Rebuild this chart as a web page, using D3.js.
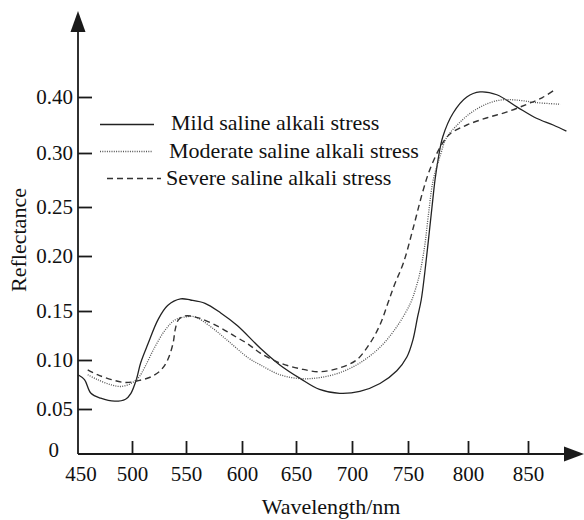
<!DOCTYPE html>
<html>
<head>
<meta charset="utf-8">
<script src="https://cdn.jsdelivr.net/npm/d3@7"></script>
<style>
  html, body { margin: 0; padding: 0; background: #fff; }
  svg { display: block; }
  text { font-family: "Liberation Serif", "Times New Roman", serif; fill: #111; }
</style>
</head>
<body>
<svg id="chart" width="584" height="520"></svg>
<script>
// ---------------- data ----------------
const seriesNames = ["Mild saline alkali stress", "Moderate saline alkali stress", "Severe saline alkali stress"];

const xTicks = [450, 500, 550, 600, 650, 700, 750, 800, 850];
const yTicks = [0, 0.05, 0.10, 0.15, 0.20, 0.25, 0.30, 0.40];

const mildWl = [450, 456, 462, 471, 484, 494, 499, 504, 508, 515, 524, 533, 545, 554, 567, 581, 596, 617, 635, 654, 671, 689, 707, 725, 740, 749, 754, 758, 761, 764, 767, 770, 772.5, 775, 779, 787.5, 799, 810, 824, 841, 857, 871, 882];
const mildR  = [0.085, 0.080, 0.066, 0.061, 0.058, 0.060, 0.066, 0.080, 0.097, 0.117, 0.141, 0.155, 0.161, 0.160, 0.157, 0.148, 0.135, 0.112, 0.095, 0.081, 0.070, 0.066, 0.068, 0.076, 0.089, 0.103, 0.120, 0.144, 0.160, 0.185, 0.216, 0.250, 0.275, 0.2935, 0.329, 0.371, 0.400, 0.409, 0.404, 0.382, 0.362, 0.350, 0.339];

const moderateWl = [459, 468, 481, 490, 499, 506, 512, 521, 531, 540, 550, 558, 572, 587, 606, 617, 635, 654, 671, 689, 707, 725, 740, 752, 756, 760, 764, 767, 771, 777, 782, 791, 802, 816, 829, 843, 857, 877];
const moderateR  = [0.085, 0.080, 0.0745, 0.073, 0.076, 0.082, 0.093, 0.113, 0.131, 0.141, 0.144, 0.144, 0.134, 0.120, 0.102, 0.095, 0.085, 0.081, 0.082, 0.087, 0.097, 0.113, 0.134, 0.157, 0.169, 0.185, 0.211, 0.242, 0.275, 0.298, 0.327, 0.350, 0.371, 0.388, 0.395, 0.394, 0.390, 0.387];

const severeWl = [459, 468, 481, 494, 506, 518, 527, 533, 538, 540, 543, 549, 561, 579, 594, 606, 617, 635, 654, 671, 689, 704, 716, 725, 732, 738, 746, 754, 762, 768, 777, 785, 799, 816, 832, 849, 862, 871];
const severeR  = [0.090, 0.085, 0.080, 0.077, 0.079, 0.083, 0.090, 0.100, 0.117, 0.131, 0.141, 0.145, 0.143, 0.134, 0.124, 0.116, 0.107, 0.097, 0.091, 0.088, 0.092, 0.100, 0.117, 0.136, 0.157, 0.174, 0.194, 0.227, 0.263, 0.284, 0.311, 0.334, 0.350, 0.363, 0.373, 0.387, 0.399, 0.411];

// ---------------- drawing ----------------
const svg = d3.select("#chart");
const ink = "#1a1a1a";

// the original chart uses an irregularly spaced axis, reproduced with piecewise scales
const x = d3.scaleLinear()
  .domain(xTicks)
  .range([78, 132, 186, 242, 296, 352, 408, 468, 528]);
const y = d3.scaleLinear()
  .domain(yTicks)
  .range([454, 409, 360, 311, 256, 207, 153, 97]);

const originX = x(450), originY = y(0);

// axis lines
svg.append("line").attr("x1", originX).attr("x2", originX)
  .attr("y1", originY).attr("y2", 30)
  .attr("stroke", ink).attr("stroke-width", 1.8);
svg.append("line").attr("x1", originX).attr("x2", 566)
  .attr("y1", originY).attr("y2", originY)
  .attr("stroke", ink).attr("stroke-width", 1.8);
// arrow heads
svg.append("path").attr("d", `M${originX},11 L${originX - 7.5},32 L${originX + 7.5},32 Z`).attr("fill", ink);
svg.append("path").attr("d", `M584,${originY} L564,${originY - 7.5} L564,${originY + 7.5} Z`).attr("fill", ink);

// x axis ticks (inward) + labels
const xAxis = d3.axisBottom(x).tickValues(xTicks.slice(1)).tickSizeInner(-13).tickSizeOuter(0).tickPadding(12).tickFormat(d3.format("d"));
const gx = svg.append("g").attr("transform", `translate(0,${originY})`).call(xAxis);
gx.select(".domain").remove();
gx.selectAll(".tick line").attr("stroke", ink).attr("stroke-width", 1.8);
gx.selectAll(".tick text").attr("font-size", 21).attr("fill", ink).attr("font-family", "Liberation Serif");
// the 450 label at the origin
svg.append("text").attr("x", originX + 3).attr("y", originY + 12).attr("dy", "0.71em")
  .attr("text-anchor", "middle").attr("font-size", 21).text("450");

// y axis ticks (inward) + labels
const fmtY = d => d === 0 ? "0" : d3.format(".2f")(d);
const yAxis = d3.axisLeft(y).tickValues(yTicks.slice(1)).tickSizeInner(-14).tickSizeOuter(0).tickPadding(5).tickFormat(fmtY);
const gy = svg.append("g").attr("transform", `translate(${originX},0)`).call(yAxis);
gy.select(".domain").remove();
gy.selectAll(".tick line").attr("stroke", ink).attr("stroke-width", 1.8);
gy.selectAll(".tick text").attr("font-size", 21).attr("fill", ink).attr("font-family", "Liberation Serif");
svg.append("text").attr("x", originX - 19).attr("y", originY - 4).attr("dy", "0.32em")
  .attr("text-anchor", "end").attr("font-size", 21).text(fmtY(0));

// axis titles
svg.append("text").attr("transform", "translate(26,240) rotate(-90)")
  .attr("text-anchor", "middle").attr("font-size", 22).text("Reflectance");
svg.append("text").attr("x", 331).attr("y", 514)
  .attr("text-anchor", "middle").attr("font-size", 22).text("Wavelength/nm");

// curves
const styles = [
  { stroke: "#222", width: 1.3, dash: null },
  { stroke: "#555", width: 1.3, dash: "1,1.3" },
  { stroke: "#333", width: 1.4, dash: "6,4" }
];
const seriesData = [
  d3.zip(mildWl, mildR),
  d3.zip(moderateWl, moderateR),
  d3.zip(severeWl, severeR)
];
const line = d3.line().x(d => x(d[0])).y(d => y(d[1])).curve(d3.curveCatmullRom.alpha(0.5));
seriesData.forEach((pts, i) => {
  svg.append("path").datum(pts).attr("d", line)
    .attr("fill", "none").attr("stroke", styles[i].stroke)
    .attr("stroke-width", styles[i].width)
    .attr("stroke-dasharray", styles[i].dash);
});

// legend
const legend = [
  { x1: 100, x2: 154, ly: 124.5, tx: 171, ty: 130 },
  { x1: 100, x2: 152, ly: 151.5, tx: 169, ty: 158 },
  { x1: 107, x2: 161, ly: 178.5, tx: 166, ty: 185 }
];
legend.forEach((l, i) => {
  svg.append("line").attr("x1", l.x1).attr("x2", l.x2).attr("y1", l.ly).attr("y2", l.ly)
    .attr("stroke", styles[i].stroke).attr("stroke-width", styles[i].width)
    .attr("stroke-dasharray", styles[i].dash);
  svg.append("text").attr("x", l.tx).attr("y", l.ty).attr("font-size", 22).text(seriesNames[i]);
});
</script>
</body>
</html>
